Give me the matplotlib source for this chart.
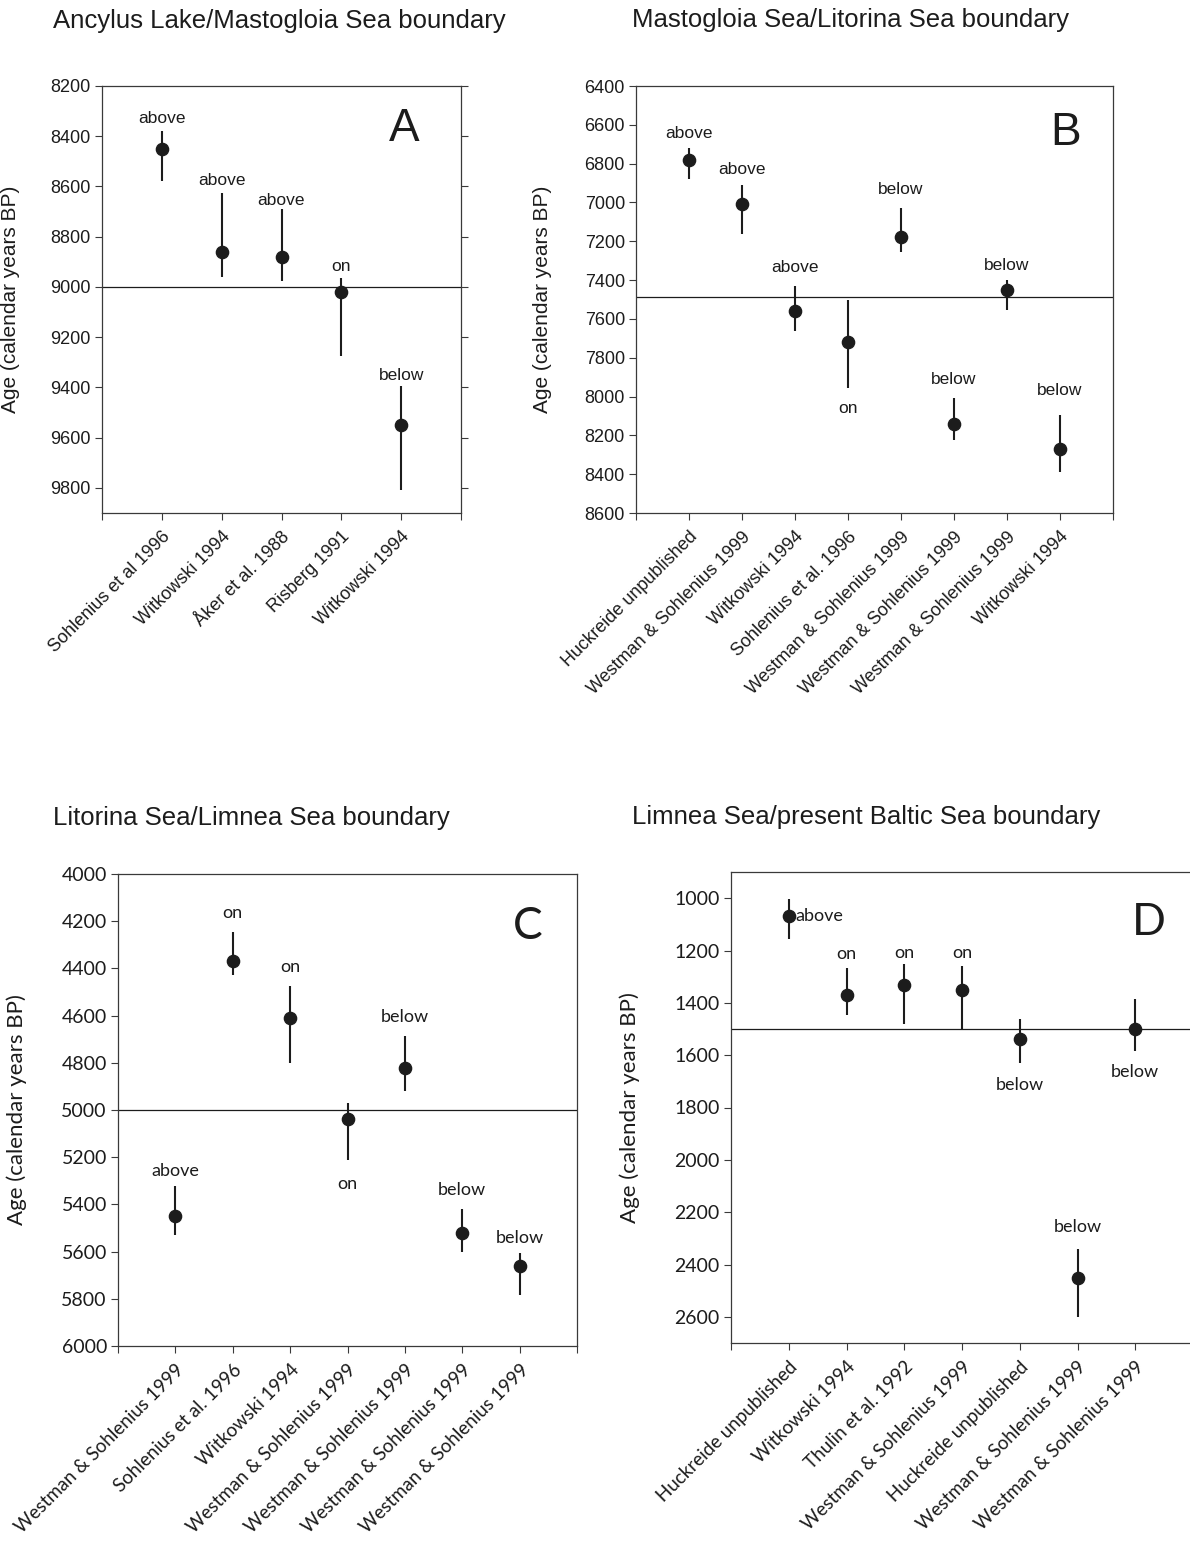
import matplotlib
matplotlib.use('Agg')
import matplotlib.pyplot as plt

W, H = 1190, 1544
DPI = 100

# ---- data (ages in calendar years BP) ----
a_title = 'Ancylus Lake/Mastogloia Sea boundary'
a_sources = ['Sohlenius et al 1996', 'Witkowski 1994', 'Åker et al. 1988', 'Risberg 1991', 'Witkowski 1994']
a_age = [8450, 8860, 8880, 9020, 9550]
a_lo = [8380, 8625, 8690, 8965, 9395]
a_hi = [8580, 8960, 8975, 9275, 9810]
a_rel = ['above', 'above', 'above', 'on', 'below']
a_boundary = 9000
a_yticks = [8200, 8400, 8600, 8800, 9000, 9200, 9400, 9600, 9800]

b_title = 'Mastogloia Sea/Litorina Sea boundary'
b_sources = ['Huckreide unpublished', 'Westman & Sohlenius 1999', 'Witkowski 1994', 'Sohlenius et al. 1996',
             'Westman & Sohlenius 1999', 'Westman & Sohlenius 1999', 'Westman & Sohlenius 1999', 'Witkowski 1994']
b_age = [6780, 7010, 7560, 7720, 7180, 8140, 7450, 8270]
b_lo = [6720, 6910, 7430, 7505, 7030, 8010, 7400, 8095]
b_hi = [6880, 7160, 7660, 7955, 7255, 8225, 7555, 8390]
b_rel = ['above', 'above', 'above', 'on', 'below', 'below', 'below', 'below']
b_boundary = 7485
b_yticks = [6400, 6600, 6800, 7000, 7200, 7400, 7600, 7800, 8000, 8200, 8400, 8600]

c_title = 'Litorina Sea/Limnea Sea boundary'
c_sources = ['Westman & Sohlenius 1999', 'Sohlenius et al. 1996', 'Witkowski 1994', 'Westman & Sohlenius 1999',
             'Westman & Sohlenius 1999', 'Westman & Sohlenius 1999', 'Westman & Sohlenius 1999']
c_age = [5450, 4370, 4610, 5040, 4820, 5520, 5660]
c_lo = [5320, 4245, 4475, 4970, 4685, 5420, 5605]
c_hi = [5530, 4430, 4800, 5210, 4920, 5600, 5785]
c_rel = ['above', 'on', 'on', 'on', 'below', 'below', 'below']
c_boundary = 5000
c_yticks = [4000, 4200, 4400, 4600, 4800, 5000, 5200, 5400, 5600, 5800, 6000]

d_title = 'Limnea Sea/present Baltic Sea boundary'
d_sources = ['Huckreide unpublished', 'Witkowski 1994', 'Thulin et al. 1992', 'Westman & Sohlenius 1999',
             'Huckreide unpublished', 'Westman & Sohlenius 1999', 'Westman & Sohlenius 1999']
d_age = [1070, 1370, 1330, 1350, 1540, 2450, 1500]
d_lo = [1005, 1265, 1250, 1260, 1460, 2340, 1385]
d_hi = [1155, 1445, 1480, 1500, 1630, 2600, 1585]
d_rel = ['above', 'on', 'on', 'on', 'below', 'below', 'below']
d_boundary = 1500
d_yticks = [1000, 1200, 1400, 1600, 1800, 2000, 2200, 2400, 2600]

# ---- layout (pixels) ----
panels = [
    dict(title=a_title, src=a_sources, age=a_age, lo=a_lo, hi=a_hi, rel=a_rel, bnd=a_boundary, yticks=a_yticks,
         box=(102, 461, 86, 513), ylim=(9900, 8200), letter='A', letter_xy=(0.841, 0.90),
         title_xy=(53, 28), ylab_x=-0.228, right_ticks=True, font='Liberation Sans', tick_fs=13,
         ann_fs=12.5, xl_fs=13, ylab_fs=15, letter_fs=33,
         side=['t', 't', 't', 't', 't'], off=[12.7, 12, 8.3, 12, 11]),
    dict(title=b_title, src=b_sources, age=b_age, lo=b_lo, hi=b_hi, rel=b_rel, bnd=b_boundary, yticks=b_yticks,
         box=(636, 1113, 86, 513), ylim=(8600, 6400), letter='B', letter_xy=(0.90, 0.89),
         title_xy=(632, 27), ylab_x=-0.176, right_ticks=False, font='Liberation Sans', tick_fs=13,
         ann_fs=12.5, xl_fs=13, ylab_fs=15, letter_fs=33,
         side=['t', 't', 't', 'b', 't', 't', 't', 't'], off=[15, 15.7, 18.7, 21, 19, 19, 15, 24]),
    dict(title=c_title, src=c_sources, age=c_age, lo=c_lo, hi=c_hi, rel=c_rel, bnd=c_boundary, yticks=c_yticks,
         box=(118, 577, 874, 1346), ylim=(6000, 4000), letter='C', letter_xy=(0.892, 0.888),
         title_xy=(53, 825), ylab_x=-0.199, right_ticks=False, font='Lato', tick_fs=14,
         ann_fs=13, xl_fs=13.5, ylab_fs=16, letter_fs=32,
         side=['t', 't', 't', 'b', 't', 't', 't'], off=[15, 19, 18.7, 24, 19, 19, 14.7]),
    dict(title=d_title, src=d_sources, age=d_age, lo=d_lo, hi=d_hi, rel=d_rel, bnd=d_boundary, yticks=d_yticks,
         box=(731, 1193, 872, 1343), ylim=(2700, 900), letter='D', letter_xy=(0.905, 0.892),
         title_xy=(632, 824), ylab_x=-0.197, right_ticks=False, font='Lato', tick_fs=14,
         ann_fs=13, xl_fs=13.5, ylab_fs=16, letter_fs=32,
         side=['r', 't', 't', 't', 'b', 't', 'b'], off=[7, 14, 11, 12.7, 21.7, 22, 21]),
]

INK = '#1c1c1c'
SPINE = '#3a3a3a'
PX = 72.0 / DPI  # points per pixel

fig = plt.figure(figsize=(W / DPI, H / DPI), dpi=DPI)

for p in panels:
    l, r, t, b = p['box']
    ax = fig.add_axes([l / W, 1 - b / H, (r - l) / W, (b - t) / H])
    n = len(p['age'])
    xs = list(range(1, n + 1))

    ax.axhline(p['bnd'], color=INK, lw=0.9, zorder=1)
    ax.vlines(xs, p['lo'], p['hi'], color=INK, lw=1.5, zorder=2)
    ax.plot(xs, p['age'], 'o', color=INK, ms=8.8, zorder=3)

    for x, y, lo, hi, txt, sd, off in zip(xs, p['age'], p['lo'], p['hi'], p['rel'], p['side'], p['off']):
        if sd == 't':
            ax.annotate(txt, (x, lo), xytext=(0, off * PX), textcoords='offset points',
                        ha='center', va='center', fontsize=p['ann_fs'], family=p['font'], color=INK)
        elif sd == 'b':
            ax.annotate(txt, (x, hi), xytext=(0, -off * PX), textcoords='offset points',
                        ha='center', va='center', fontsize=p['ann_fs'], family=p['font'], color=INK)
        else:
            ax.annotate(txt, (x, y), xytext=(off * PX, 0), textcoords='offset points',
                        ha='left', va='center', fontsize=p['ann_fs'], family=p['font'], color=INK)

    ax.set_xlim(0, n + 1)
    ax.set_ylim(*p['ylim'])
    ax.set_yticks(p['yticks'])
    ax.set_xticks(range(0, n + 2))
    ax.set_xticklabels([''] + p['src'] + [''], rotation=45, ha='right', va='top',
                       rotation_mode='anchor', fontsize=p['xl_fs'], family=p['font'], color=INK)
    for lab in ax.get_yticklabels():
        lab.set_fontsize(p['tick_fs'])
        lab.set_family(p['font'])
        lab.set_color(INK)
    ax.tick_params(axis='both', direction='out', length=5, width=0.8, color=SPINE, pad=3)
    ax.tick_params(axis='x', pad=6)
    if p['right_ticks']:
        ax.tick_params(axis='y', right=True, labelright=False)
    for s in ax.spines.values():
        s.set_color(SPINE)
        s.set_linewidth(0.9)

    ax.set_ylabel('Age (calendar years BP)', fontsize=p['ylab_fs'], family=p['font'], color=INK)
    ax.yaxis.set_label_coords(p['ylab_x'], 0.5)

    ax.text(p['letter_xy'][0], p['letter_xy'][1], p['letter'], transform=ax.transAxes,
            ha='center', va='center', fontsize=p['letter_fs'], family=p['font'], color=INK)

    fig.text(p['title_xy'][0] / W, 1 - p['title_xy'][1] / H, p['title'], ha='left', va='baseline',
             fontsize=18.5, family='Liberation Sans', color=INK)

fig.savefig('out.png', dpi=DPI)
